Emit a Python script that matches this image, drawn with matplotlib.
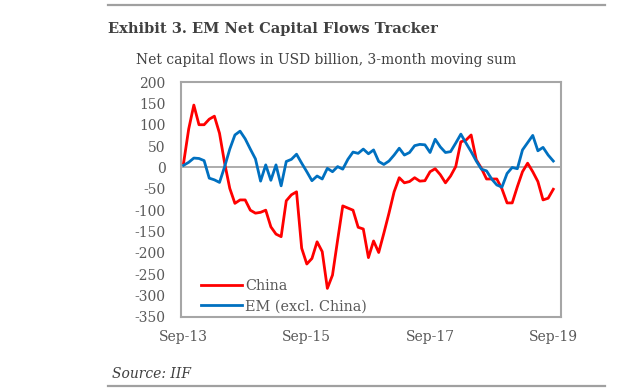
import numpy as np
import matplotlib.pyplot as plt
from matplotlib.lines import Line2D

# monthly data, Sep-13 .. Sep-19 (USD bn, 3-month moving sum)
china = [10, 90, 146, 100, 100, 113, 120, 80, 10, -49,
         -84, -76, -76, -100, -107, -105, -100, -139, -156, -162,
         -78, -64, -57, -189, -226, -213, -174, -197, -283, -252,
         -170, -90, -95, -100, -140, -144, -211, -172, -199, -154,
         -107, -57, -24, -36, -33, -24, -32, -31, -10, -3,
         -17, -36, -20, 2, 60, 64, 76, 18, -2, -27,
         -27, -27, -50, -83, -83, -45, -10, 10, -10, -33,
         -76, -72, -51]
em_ex_china = [5, 12, 22, 21, 16, -25, -29, -35, 2, 43,
               76, 85, 67, 43, 20, -32, 6, -30, 6, -43,
               14, 19, 31, 10, -10, -31, -20, -27, -2, -10,
               2, -4, 19, 36, 33, 43, 32, 41, 14, 7,
               15, 29, 45, 29, 35, 51, 54, 53, 35, 66,
               48, 35, 37, 57, 78, 57, 37, 15, -4, -8,
               -27, -41, -46, -14, 0, -3, 41, 58, 75, 39,
               47, 29, 15]
tick_pos = [0, 24, 48, 72]
tick_labels = ['Sep-13', 'Sep-15', 'Sep-17', 'Sep-19']
y_ticks = np.arange(-350, 201, 50)

SERIF = ['DejaVu Serif']
GREY_TXT = '#595959'
GREY_LINE = '#a6a6a6'

fig = plt.figure(figsize=(6.19, 3.88), dpi=100)
ax = fig.add_axes([181 / 619, 71 / 388, 380 / 619, 235 / 388])

x = np.arange(len(china))
ax.axhline(0, color=GREY_LINE, lw=1.3, zorder=1)
ax.plot(x, china, color='#ff0000', lw=2.0, zorder=3)
ax.plot(x, em_ex_china, color='#0070c0', lw=2.0, zorder=3)

ax.set_xlim(-0.5, 73.5)
ax.set_ylim(-350, 200)
ax.set_xticks(tick_pos)
ax.set_xticklabels(tick_labels, family=SERIF, fontsize=10, color=GREY_TXT)
ax.set_yticks(y_ticks)
ax.set_yticklabels([str(v) for v in y_ticks], family=SERIF, fontsize=10, color=GREY_TXT)
ax.tick_params(axis='y', length=0, pad=11)
ax.tick_params(axis='x', length=0, pad=9)
for s in ax.spines.values():
    s.set_color(GREY_LINE)
    s.set_linewidth(1.5)

handles = [Line2D([], [], color='#ff0000', lw=2.0),
           Line2D([], [], color='#0070c0', lw=2.0)]
leg = ax.legend(handles, ['China', 'EM (excl. China)'], loc='lower left',
                bbox_to_anchor=(0.053, 0.015), frameon=False, handlelength=2.8,
                handletextpad=0.25, labelspacing=0.45, borderpad=0, borderaxespad=0,
                prop={'family': SERIF, 'size': 10.4})
for t in leg.get_texts():
    t.set_color(GREY_TXT)

# header / footer
fig.add_artist(Line2D([108 / 619, 605 / 619], [1 - 4.5 / 388] * 2, color='#a0a0a0', lw=1.6))
fig.text(108 / 619, 1 - 29 / 388, 'Exhibit 3. EM Net Capital Flows Tracker', family=SERIF,
         fontsize=10.5, fontweight='bold', color='#404040', va='center')
fig.text(136 / 619, 1 - 60 / 388, 'Net capital flows in USD billion, 3-month moving sum',
         family=SERIF, fontsize=10, color='#404040', va='center')
fig.text(112 / 619, 1 - 374 / 388, 'Source: IIF', family=SERIF, fontsize=10,
         style='italic', color='#404040', va='center')
fig.add_artist(Line2D([108 / 619, 605 / 619], [1 - 386 / 388] * 2, color='#a0a0a0', lw=1.6))

fig.savefig('out.png', dpi=100)
